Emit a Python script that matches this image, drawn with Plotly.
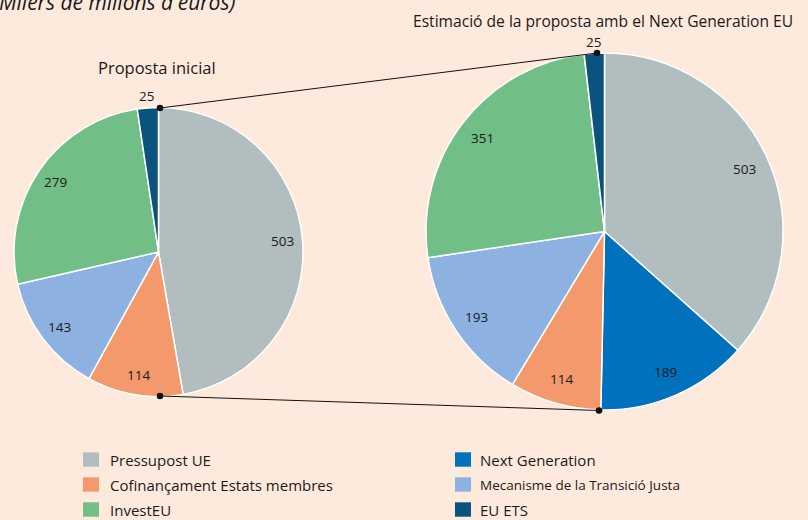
import math
import plotly.graph_objects as go

W, H = 808, 520

left_labels = ["Pressupost UE", "Cofinançament Estats membres",
               "Mecanisme de la Transició Justa", "InvestEU", "EU ETS"]
left_values = [503, 114, 143, 279, 25]

right_labels = ["Pressupost UE", "Next Generation", "Cofinançament Estats membres",
                "Mecanisme de la Transició Justa", "InvestEU", "EU ETS"]
right_values = [503, 189, 114, 193, 351, 25]

legend_col1 = ["Pressupost UE", "Cofinançament Estats membres", "InvestEU"]
legend_col2 = ["Next Generation", "Mecanisme de la Transició Justa", "EU ETS"]

colors = {
    "Pressupost UE": "#B2BDC0",
    "Cofinançament Estats membres": "#F4996B",
    "Mecanisme de la Transició Justa": "#8DB1E0",
    "InvestEU": "#71BE86",
    "Next Generation": "#0071BC",
    "EU ETS": "#0B527D",
}

title_main = "(Milers de milions d'euros)"
title_left = "Proposta inicial"
title_right = "Estimació de la proposta amb el Next Generation EU"

BG = "#FDEADC"
FONT = "Open Sans"
TXT = "#1a1a1a"


def px(x):
    return x / W


def py(y):
    return 1 - y / H


fig = go.Figure()
annotations = []
shapes = []

pies = [
    (left_labels, left_values, (14, 107.5, 303, 396.5)),
    (right_labels, right_values, (426, 53, 783, 410)),
]

for labels, values, (x0, y0, x1, y1) in pies:
    fig.add_trace(go.Pie(
        labels=labels, values=values,
        sort=False, direction="clockwise", rotation=0,
        marker=dict(colors=[colors[l] for l in labels],
                    line=dict(color="white", width=1.5)),
        textinfo="none",
        hoverinfo="label+value",
        showlegend=False,
        domain=dict(x=[px(x0), px(x1)], y=[py(y1), py(y0)]),
    ))
    # value labels placed from the data (slice mid-angles)
    cx, cy = (x0 + x1) / 2, (y0 + y1) / 2
    r = (x1 - x0) / 2
    total = sum(values)
    cum = 0
    for lab, v in zip(labels, values):
        mid = (cum + v / 2) / total * 2 * math.pi
        cum += v
        rr_lab = r + 11.5 if lab == "EU ETS" else 0.86 * r
        lx = cx + rr_lab * math.sin(mid)
        ly = cy - rr_lab * math.cos(mid)
        annotations.append(dict(text=str(v), xref="paper", yref="paper",
                                x=px(lx), y=py(ly), xanchor="center", yanchor="middle",
                                showarrow=False,
                                font=dict(family=FONT, size=13.5, color=TXT)))

# connector lines between the two pies
for (ax, ay), (bx, by) in [((160, 108), (597, 53)), ((160, 396), (599, 410.5))]:
    shapes.append(dict(type="line", xref="paper", yref="paper",
                       x0=px(ax), y0=py(ay), x1=px(bx), y1=py(by),
                       line=dict(color="#111111", width=1)))
    for (qx, qy) in [(ax, ay), (bx, by)]:
        rr = 3.3
        shapes.append(dict(type="circle", xref="paper", yref="paper",
                           x0=px(qx - rr), y0=py(qy - rr), x1=px(qx + rr), y1=py(qy + rr),
                           fillcolor="#111111", line=dict(width=0)))

# legend (manual, two columns)
for col_x, items, toff in [(83, legend_col1, 25), (455, legend_col2, 23)]:
    for i, lab in enumerate(items):
        yc = 459.5 + i * 25
        shapes.append(dict(type="rect", xref="paper", yref="paper",
                           x0=px(col_x), x1=px(col_x + 16),
                           y0=py(yc + 7.2), y1=py(yc - 7.2),
                           fillcolor=colors[lab], line=dict(width=0)))
        fs = 13.5 if lab == "Mecanisme de la Transició Justa" else 15
        annotations.append(dict(text=lab, xref="paper", yref="paper",
                                x=px(col_x + toff), y=py(yc), xanchor="left",
                                yanchor="middle", showarrow=False,
                                font=dict(family=FONT, size=fs, color=TXT)))

annotations.append(dict(text=title_main, xref="paper", yref="paper",
                        x=px(-9), y=py(18), xanchor="left", yanchor="bottom",
                        showarrow=False,
                        font=dict(family=FONT, size=21, color=TXT, style="italic")))
annotations.append(dict(text=title_left, xref="paper", yref="paper",
                        x=px(157), y=py(68), xanchor="center", yanchor="middle",
                        showarrow=False,
                        font=dict(family=FONT, size=16.5, color=TXT)))
annotations.append(dict(text=title_right, xref="paper", yref="paper",
                        x=px(603), y=py(21), xanchor="center", yanchor="middle",
                        showarrow=False,
                        font=dict(family=FONT, size=15.6, color=TXT)))

fig.update_layout(
    width=W, height=H,
    margin=dict(l=0, r=0, t=0, b=0),
    paper_bgcolor=BG, plot_bgcolor=BG,
    shapes=shapes, annotations=annotations,
    showlegend=False,
)

fig.write_html("out.html",
               config={"displayModeBar": False},
               post_script="document.body.style.margin='0';document.body.style.background='%s';" % BG)
